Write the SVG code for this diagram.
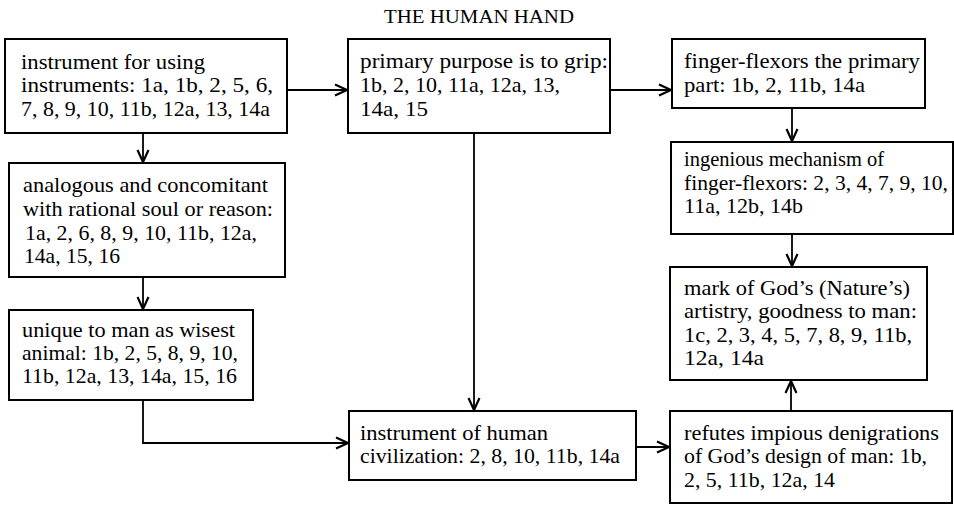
<svg xmlns="http://www.w3.org/2000/svg" width="954" height="506" viewBox="0 0 954 506">
<style>
.box{fill:#fff;stroke:#000;stroke-width:2}
.t{font-family:"Liberation Serif","Times New Roman",serif;font-size:21px;fill:#000}
.title{font-family:"Liberation Serif","Times New Roman",serif;font-size:19px;fill:#000}
.c{fill:none;stroke:#000;stroke-width:1.8}
</style>
<defs>
<marker id="ah" viewBox="0 0 14 14" refX="13" refY="7" markerWidth="14" markerHeight="14" markerUnits="userSpaceOnUse" orient="auto">
<path d="M1,1.5 L13,7 L1,12.5" fill="none" stroke="#000" stroke-width="2.2"/>
</marker>
</defs>
<rect width="954" height="506" fill="#fff"/>
<text class="title" x="384" y="23" textLength="190" lengthAdjust="spacingAndGlyphs">THE HUMAN HAND</text>

<g id="connectors">
<line class="c" x1="287" y1="90" x2="347" y2="90" marker-end="url(#ah)"/>
<line class="c" x1="610" y1="90" x2="671" y2="90" marker-end="url(#ah)"/>
<line class="c" x1="143" y1="133" x2="143" y2="162" marker-end="url(#ah)"/>
<line class="c" x1="143" y1="277" x2="143" y2="309" marker-end="url(#ah)"/>
<path class="c" d="M143,400 V443 H348" marker-end="url(#ah)"/>
<line class="c" x1="474" y1="133" x2="474" y2="410" marker-end="url(#ah)"/>
<line class="c" x1="636" y1="447" x2="669" y2="447" marker-end="url(#ah)"/>
<line class="c" x1="792" y1="108" x2="792" y2="141" marker-end="url(#ah)"/>
<line class="c" x1="792" y1="234" x2="792" y2="266" marker-end="url(#ah)"/>
<line class="c" x1="791" y1="411" x2="791" y2="381" marker-end="url(#ah)"/>
</g>

<g id="nodeA">
<rect class="box" x="5" y="39" width="282" height="94"/>
<text class="t" x="21" y="69" textLength="184" lengthAdjust="spacingAndGlyphs">instrument for using</text>
<text class="t" x="21" y="92" textLength="252" lengthAdjust="spacingAndGlyphs">instruments: 1a, 1b, 2, 5, 6,</text>
<text class="t" x="21" y="116" textLength="249" lengthAdjust="spacingAndGlyphs">7, 8, 9, 10, 11b, 12a, 13, 14a</text>
</g>

<g id="nodeB">
<rect class="box" x="348" y="39" width="262" height="94"/>
<text class="t" x="360" y="68" textLength="248" lengthAdjust="spacingAndGlyphs">primary purpose is to grip:</text>
<text class="t" x="360" y="92" textLength="200" lengthAdjust="spacingAndGlyphs">1b, 2, 10, 11a, 12a, 13,</text>
<text class="t" x="360" y="116" textLength="68" lengthAdjust="spacingAndGlyphs">14a, 15</text>
</g>

<g id="nodeC">
<rect class="box" x="672" y="39" width="253" height="69"/>
<text class="t" x="684" y="68" textLength="236" lengthAdjust="spacingAndGlyphs">finger-flexors the primary</text>
<text class="t" x="684" y="92" textLength="181" lengthAdjust="spacingAndGlyphs">part: 1b, 2, 11b, 14a</text>
</g>

<g id="nodeD">
<rect class="box" x="9" y="163" width="276" height="114"/>
<text class="t" x="23" y="192" textLength="245" lengthAdjust="spacingAndGlyphs">analogous and concomitant</text>
<text class="t" x="23" y="216" textLength="250" lengthAdjust="spacingAndGlyphs">with rational soul or reason:</text>
<text class="t" x="25" y="240" textLength="232" lengthAdjust="spacingAndGlyphs">1a, 2, 6, 8, 9, 10, 11b, 12a,</text>
<text class="t" x="24" y="263" textLength="96" lengthAdjust="spacingAndGlyphs">14a,  15, 16</text>
</g>

<g id="nodeE">
<rect class="box" x="9" y="310" width="244" height="90"/>
<text class="t" x="22" y="337" textLength="213" lengthAdjust="spacingAndGlyphs">unique to man as wisest</text>
<text class="t" x="22" y="360" textLength="216" lengthAdjust="spacingAndGlyphs">animal: 1b, 2, 5, 8, 9, 10,</text>
<text class="t" x="22" y="383" textLength="215" lengthAdjust="spacingAndGlyphs">11b, 12a, 13, 14a, 15, 16</text>
</g>

<g id="nodeF">
<rect class="box" x="349" y="411" width="287" height="69"/>
<text class="t" x="360" y="440" textLength="188" lengthAdjust="spacingAndGlyphs">instrument of human</text>
<text class="t" x="360" y="463" textLength="260" lengthAdjust="spacingAndGlyphs">civilization: 2, 8, 10, 11b, 14a</text>
</g>

<g id="nodeG">
<rect class="box" x="671" y="142" width="282" height="92"/>
<text class="t" x="684" y="166" textLength="200" lengthAdjust="spacingAndGlyphs">ingenious mechanism of</text>
<text class="t" x="684" y="190" textLength="264" lengthAdjust="spacingAndGlyphs">finger-flexors: 2, 3, 4, 7, 9, 10,</text>
<text class="t" x="684" y="213" textLength="119" lengthAdjust="spacingAndGlyphs">11a, 12b, 14b</text>
</g>

<g id="nodeH">
<rect class="box" x="670" y="267" width="257" height="113"/>
<text class="t" x="684" y="295" textLength="226" lengthAdjust="spacingAndGlyphs">mark of God’s (Nature’s)</text>
<text class="t" x="684" y="318" textLength="233" lengthAdjust="spacingAndGlyphs">artistry, goodness to man:</text>
<text class="t" x="684" y="342" textLength="228" lengthAdjust="spacingAndGlyphs">1c, 2, 3, 4, 5, 7, 8, 9, 11b,</text>
<text class="t" x="684" y="365" textLength="80" lengthAdjust="spacingAndGlyphs">12a, 14a</text>
</g>

<g id="nodeI">
<rect class="box" x="670" y="411" width="282" height="92"/>
<text class="t" x="684" y="440" textLength="255" lengthAdjust="spacingAndGlyphs">refutes impious denigrations</text>
<text class="t" x="684" y="463" textLength="243" lengthAdjust="spacingAndGlyphs">of God’s design of man: 1b,</text>
<text class="t" x="684" y="487" textLength="151" lengthAdjust="spacingAndGlyphs">2, 5, 11b, 12a, 14</text>
</g>
</svg>
